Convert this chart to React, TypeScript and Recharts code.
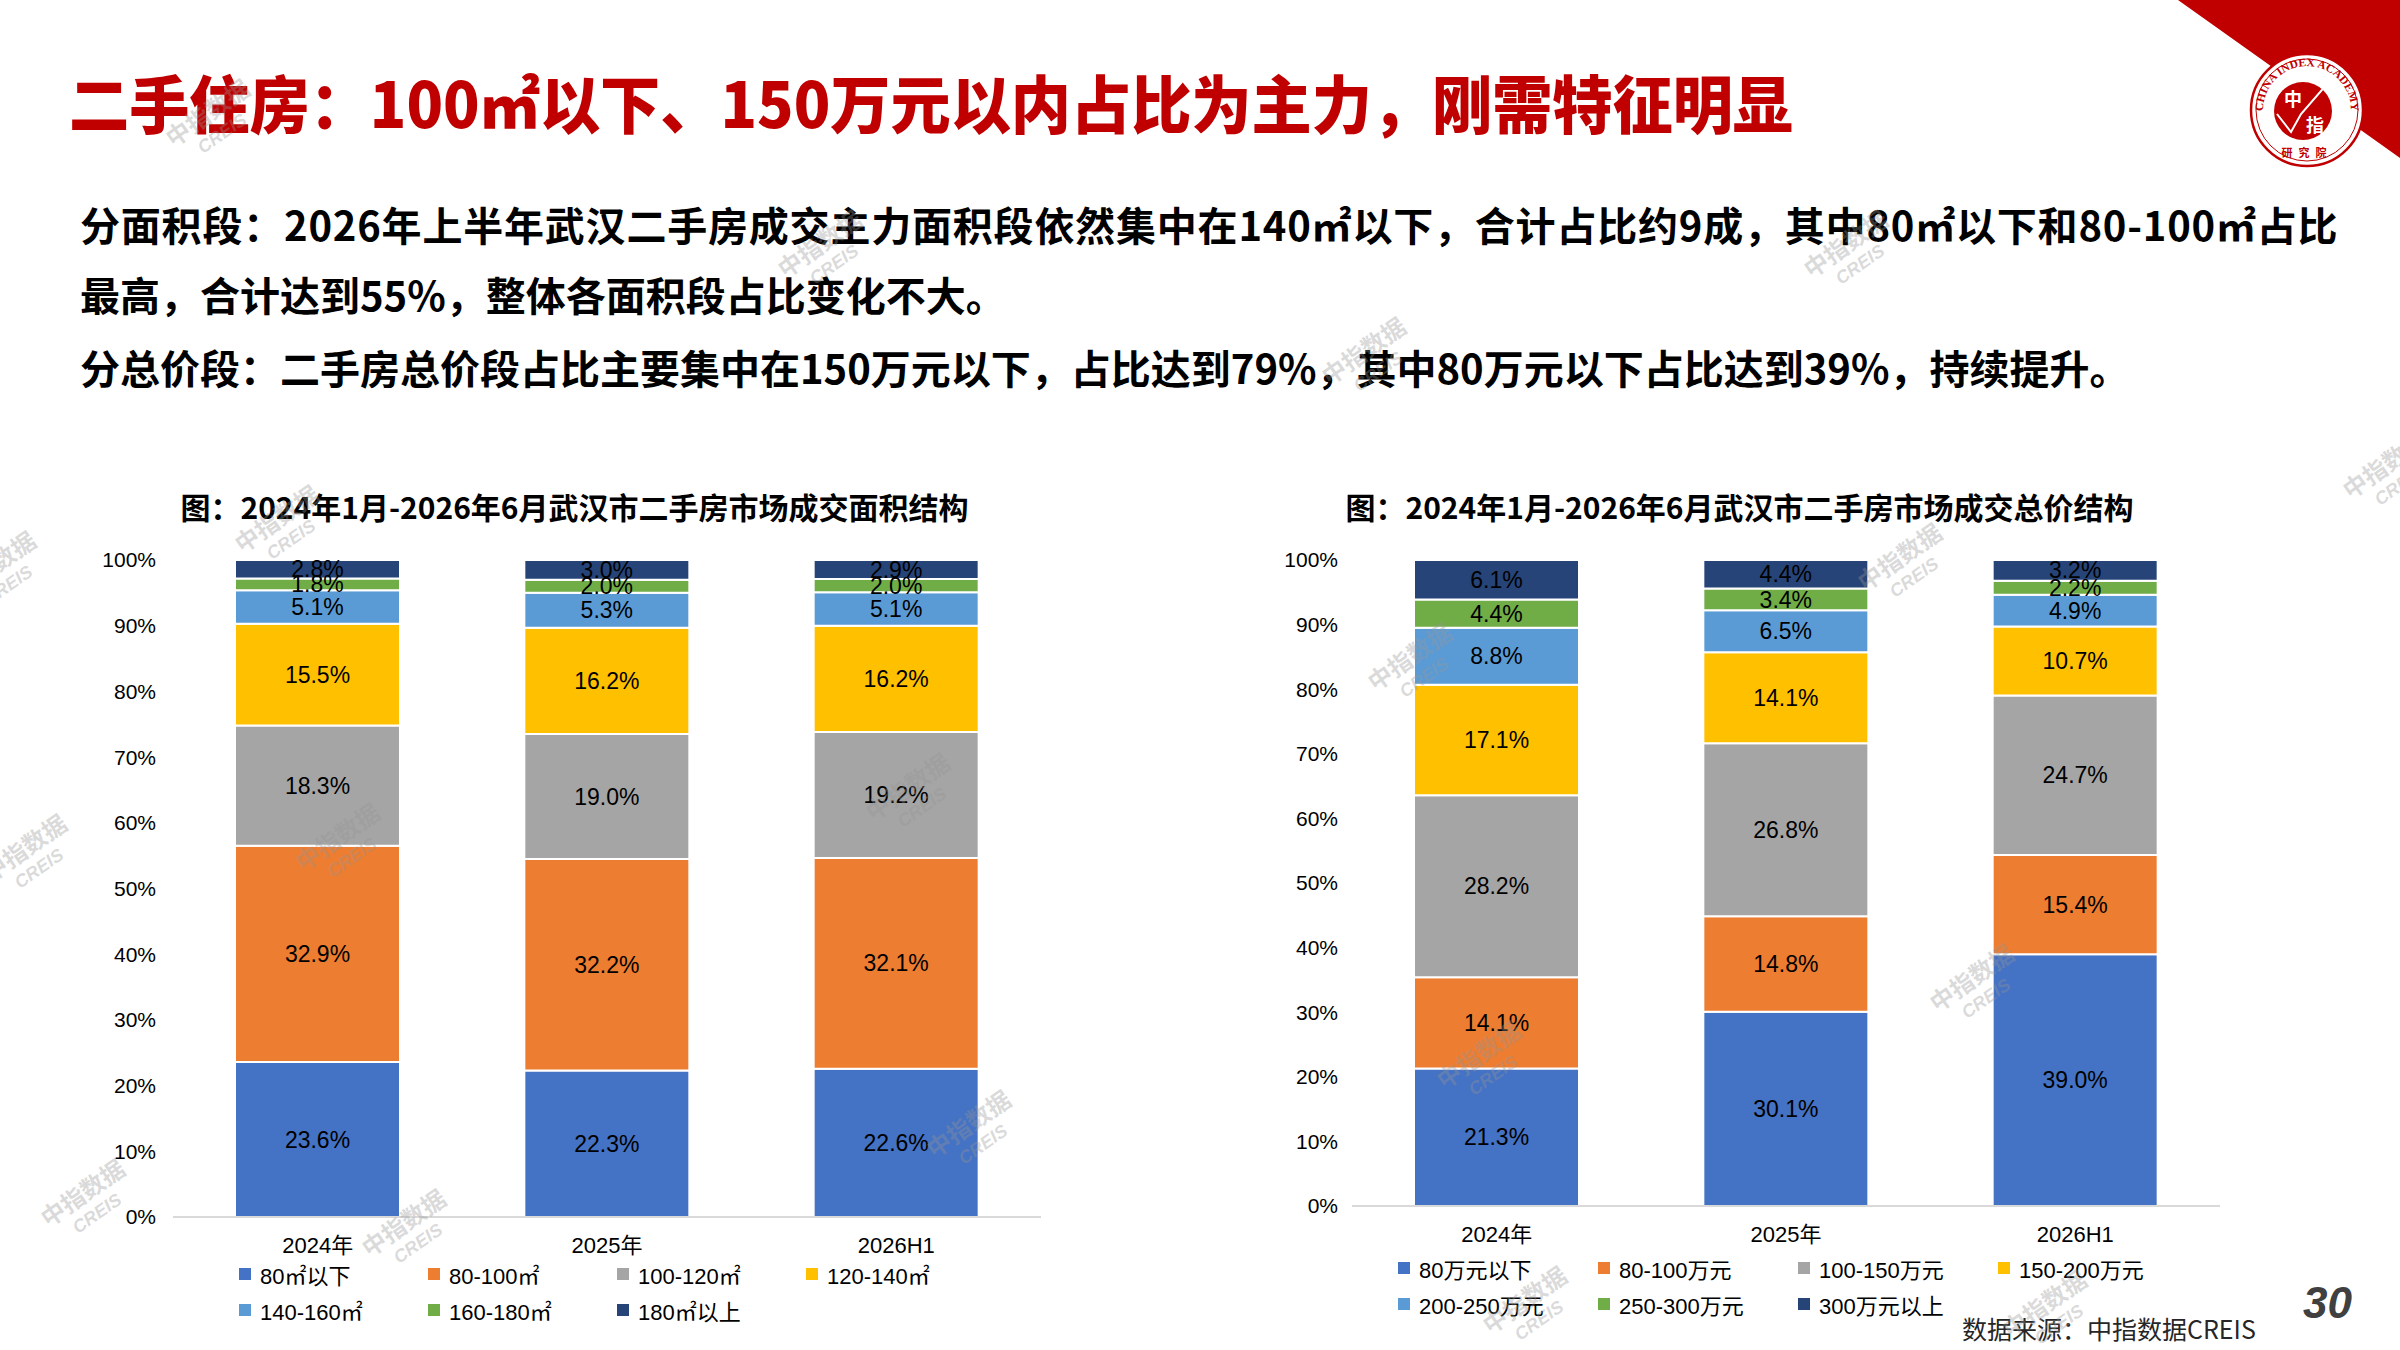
import { BarChart, Bar, XAxis, YAxis, LabelList } from 'recharts';

// categories
const categories = ['2024年', '2025年', '2026H1'];

// 面积结构 (%)
const areaSeries = ['80㎡以下', '80-100㎡', '100-120㎡', '120-140㎡', '140-160㎡', '160-180㎡', '180㎡以上'];
const areaBelow80 = [23.6, 22.3, 22.6];
const area80to100 = [32.9, 32.2, 32.1];
const area100to120 = [18.3, 19.0, 19.2];
const area120to140 = [15.5, 16.2, 16.2];
const area140to160 = [5.1, 5.3, 5.1];
const area160to180 = [1.8, 2.0, 2.0];
const areaAbove180 = [2.8, 3.0, 2.9];

// 总价结构 (%)
const priceSeries = ['80万元以下', '80-100万元', '100-150万元', '150-200万元', '200-250万元', '250-300万元', '300万元以上'];
const priceBelow80 = [21.3, 30.1, 39.0];
const price80to100 = [14.1, 14.8, 15.4];
const price100to150 = [28.2, 26.8, 24.7];
const price150to200 = [17.1, 14.1, 10.7];
const price200to250 = [8.8, 6.5, 4.9];
const price250to300 = [4.4, 3.4, 2.2];
const priceAbove300 = [6.1, 4.4, 3.2];

const pctTicks = [0, 0.1, 0.2, 0.3, 0.4, 0.5, 0.6, 0.7, 0.8, 0.9, 1];

const COLORS = ['#4472C4', '#ED7D31', '#A5A5A5', '#FFC000', '#5B9BD5', '#70AD47', '#264478'];
const RED = '#C00000';
const CHART_FONT = "'Liberation Sans', Arial, 'Noto Sans CJK SC', sans-serif";
const CJK_FONT = "'Noto Sans CJK SC', 'Liberation Sans', sans-serif";

const buildRows = (columns: number[][]) =>
  categories.map((cat, i) => {
    const row: Record<string, string | number> = { cat };
    columns.forEach((col, j) => {
      row['s' + j] = col[i];
    });
    return row;
  });

const areaRows = buildRows([areaBelow80, area80to100, area100to120, area120to140, area140to160, area160to180, areaAbove180]);
const priceRows = buildRows([priceBelow80, price80to100, price100to150, price150to200, price200to250, price250to300, priceAbove300]);

// watermark spots (decoration only)
const watermarks = [
  [214, 122], [826, 253], [1852, 253], [1370, 360], [283, 528], [1906, 566],
  [31, 857], [344, 846], [914, 796], [1416, 666], [1978, 987], [1485, 1064],
  [975, 1133], [89, 1202], [410, 1232], [1531, 1309], [2051, 1313], [2391, 474], [0, 574],
];

function StackChart({ rows, series, left, height, yMargin }: { rows: any[]; series: string[]; left: number; height: number; yMargin: number }) {
  return (
    <div style={{ position: 'absolute', left, top: 540, fontFamily: CHART_FONT }}>
      <BarChart width={1100} height={height} data={rows} stackOffset="expand" margin={{ top: 20, right: 59, left: 0, bottom: 3 }}>
        <XAxis
          dataKey="cat"
          height={40}
          axisLine={{ stroke: '#D9D9D9', strokeWidth: 2 }}
          tickLine={false}
          tickSize={0}
          tickMargin={20}
          tick={{ fontSize: 22, fill: '#000' }}
        />
        <YAxis
          width={173}
          domain={[0, 1]}
          ticks={pctTicks}
          interval={0}
          tickFormatter={(v: number) => `${Math.round(v * 100)}%`}
          axisLine={false}
          tickLine={false}
          tickSize={0}
          tickMargin={yMargin}
          tick={{ fontSize: 21, fill: '#000' }}
        />
        {series.map((name, j) => (
          <Bar
            key={name}
            dataKey={'s' + j}
            name={name}
            stackId="a"
            fill={COLORS[j]}
            stroke="#fff"
            strokeWidth={2}
            barSize={165}
            isAnimationActive={false}
          >
            <LabelList
              dataKey={'s' + j}
              position="center"
              formatter={(v: any) => `${Number(v).toFixed(1)}%`}
              fill="#000"
              fontSize={23}
            />
          </Bar>
        ))}
      </BarChart>
    </div>
  );
}

function LegendBlock({ series, left, top, colWidth }: { series: string[]; left: number; top: number; colWidth: number }) {
  return (
    <div
      style={{
        position: 'absolute',
        left,
        top,
        display: 'grid',
        gridTemplateColumns: `repeat(4, ${colWidth}px)`,
        rowGap: 6,
        fontFamily: CHART_FONT,
        fontSize: 22,
        color: '#000',
      }}
    >
      {series.map((name, j) => (
        <div key={name} style={{ display: 'flex', alignItems: 'center', height: 30, whiteSpace: 'nowrap' }}>
          <span style={{ width: 12, height: 12, background: COLORS[j], marginRight: 9, flex: 'none' }} />
          {name}
        </div>
      ))}
    </div>
  );
}

const textLine = (top: number, spacing = 0): React.CSSProperties => ({
  position: 'absolute',
  left: 80,
  top,
  fontSize: 40,
  lineHeight: '40px',
  fontWeight: 700,
  color: '#000',
  whiteSpace: 'nowrap',
  letterSpacing: spacing,
});

export default function App() {
  return (
    <div style={{ position: 'relative', width: 2400, height: 1350, overflow: 'hidden', background: '#fff', fontFamily: CJK_FONT }}>
      <style>{'body{margin:0}'}</style>

      <div
        style={{
          position: 'absolute',
          left: 69,
          top: 69,
          fontSize: 63,
          lineHeight: '63px',
          fontWeight: 900,
          color: RED,
          whiteSpace: 'nowrap',
          transform: 'scaleX(0.955)',
          transformOrigin: 'left center',
        }}
      >
        二手住房：100㎡以下、150万元以内占比为主力，刚需特征明显
      </div>

      <div style={textLine(204, 0.8)}>
        分面积段：2026年上半年武汉二手房成交主力面积段依然集中在140㎡以下，合计占比约9成，其中80㎡以下和80-100㎡占比
      </div>
      <div style={textLine(274)}>最高，合计达到55%，整体各面积段占比变化不大。</div>
      <div style={textLine(347)}>
        分总价段：二手房总价段占比主要集中在150万元以下，占比达到79%，其中80万元以下占比达到39%，持续提升。
      </div>

      <div style={{ position: 'absolute', left: 176, width: 797, top: 489, textAlign: 'center', fontSize: 30, lineHeight: '34px', fontWeight: 700, whiteSpace: 'nowrap' }}>
        图：2024年1月-2026年6月武汉市二手房市场成交面积结构
      </div>
      <div style={{ position: 'absolute', left: 1341, width: 797, top: 489, textAlign: 'center', fontSize: 30, lineHeight: '34px', fontWeight: 700, whiteSpace: 'nowrap' }}>
        图：2024年1月-2026年6月武汉市二手房市场成交总价结构
      </div>

      <StackChart rows={areaRows} series={areaSeries} left={0} height={720} yMargin={17} />
      <StackChart rows={priceRows} series={priceSeries} left={1179} height={709} yMargin={14} />

      <LegendBlock series={areaSeries} left={239} top={1259} colWidth={189} />
      <LegendBlock series={priceSeries} left={1398} top={1253} colWidth={200} />

      <div style={{ position: 'absolute', left: 1962, top: 1313, fontSize: 25, lineHeight: '30px', color: '#262626', whiteSpace: 'nowrap' }}>
        数据来源：中指数据CREIS
      </div>
      <div style={{ position: 'absolute', left: 2303, top: 1281, fontSize: 44, lineHeight: '44px', fontWeight: 700, fontStyle: 'italic', color: '#404040', fontFamily: CHART_FONT }}>
        30
      </div>

      <svg width={2400} height={1350} style={{ position: 'absolute', left: 0, top: 0, pointerEvents: 'none' }}>
        <polygon points="2178,0 2400,0 2400,158" fill={RED} />
        <g transform="translate(2307,110)">
          <circle r={56} fill="#fff" stroke={RED} strokeWidth={2.5} />
          <circle r={51} fill="none" stroke={RED} strokeWidth={1} />
          <path id="logoArc" d="M -41.4 15.1 A 44 44 0 1 1 41.4 15.1" fill="none" />
          <text fontSize={11.5} fill={RED} fontWeight={700} fontFamily="'Liberation Serif', serif">
            <textPath href="#logoArc" startOffset="50%" textAnchor="middle">CHINA INDEX ACADEMY</textPath>
          </text>
          <circle cx={-4} cy={1} r={29} fill={RED} />
          <text x={-14} y={-4} fontSize={18} fill="#fff" fontWeight={700} textAnchor="middle">中</text>
          <text x={8} y={22} fontSize={18} fill="#fff" fontWeight={700} textAnchor="middle">指</text>
          <polyline points="-30,4 -16,22 -6,4 20,-26 27,-18" fill="none" stroke="#fff" strokeWidth={2} />
          <text x={0} y={47} fontSize={11} fill={RED} fontWeight={700} textAnchor="middle" letterSpacing={6}>研究院</text>
        </g>
        {watermarks.map(([x, y], i) => (
          <g key={i} transform={`translate(${x},${y}) rotate(-35)`} fill="rgba(150,150,150,0.35)" fontWeight={700} textAnchor="middle">
            <text y={-2} fontSize={24} fontFamily={CJK_FONT}>中指数据</text>
            <text y={20} fontSize={18} fontStyle="italic" fontFamily={CHART_FONT}>CREIS</text>
          </g>
        ))}
      </svg>
    </div>
  );
}
